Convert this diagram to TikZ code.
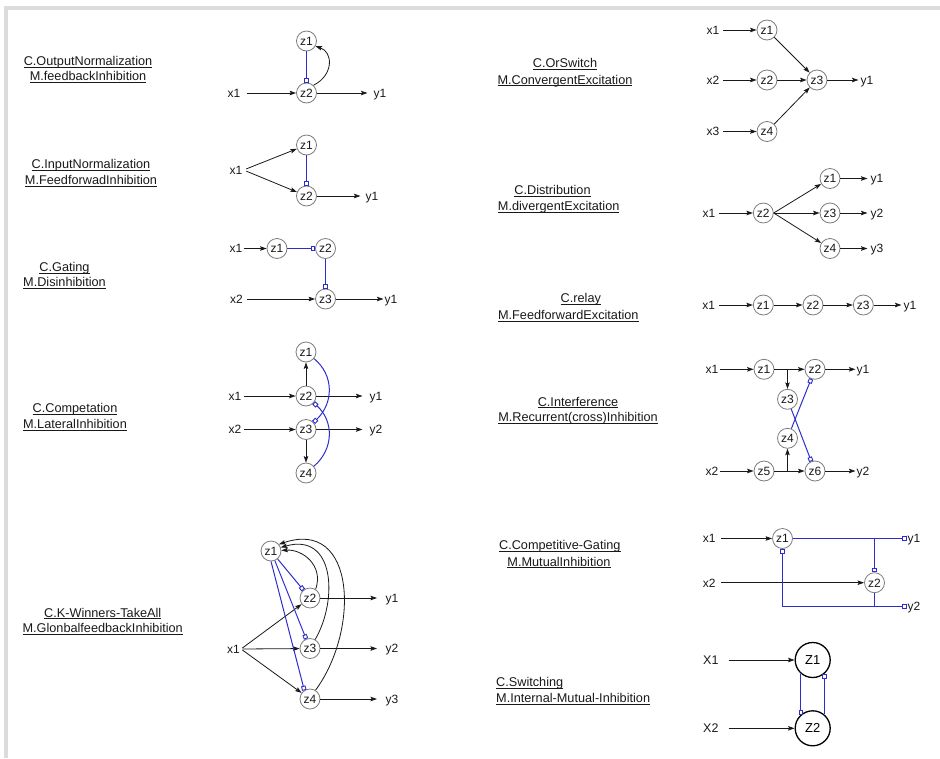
\documentclass[tikz,border=0pt]{standalone}
\usepackage{fontspec}
\setmainfont{Liberation Sans}
\usetikzlibrary{arrows.meta}
\definecolor{inhblue}{RGB}{45,45,205}
\definecolor{framegray}{RGB}{220,220,220}
\definecolor{ringgray}{RGB}{125,125,125}
\definecolor{inkc}{RGB}{25,25,25}
\newcommand\undl[1]{\setbox0=\hbox{#1}\rlap{\rule[-1.7pt]{\wd0}{0.75pt}}\box0}
\begin{document}
\begin{tikzpicture}[x=1pt,y=-1pt,
  neuron/.style={circle,draw=ringgray,line width=0.8pt,minimum size=20pt,inner sep=0pt,fill=white,text=inkc,font=\fontsize{12}{14}\selectfont,text height=8.6pt,text depth=0pt},
  bigneuron/.style={circle,draw=black,line width=1.3pt,minimum size=35pt,inner sep=0pt,fill=white,font=\fontsize{13}{15}\selectfont,text height=9.3pt,text depth=0pt},
  io/.style={inner sep=1pt,text=inkc,font=\fontsize{12}{14}\selectfont,text height=8.6pt,text depth=0pt},
  ttl/.style={inner sep=0pt,text=inkc,font=\fontsize{12.7}{15}\selectfont,text height=9.1pt,text depth=0pt},
  exc/.style={draw=inkc,line width=0.8pt,-{Stealth[length=6.5pt,width=4.5pt,inset=1.2pt]}},
  inh/.style={draw=inhblue,line width=1pt,-{Square[open,length=4.5pt,width=4.5pt,line width=0.9pt]}},
  inhline/.style={draw=inhblue,line width=1pt}]
\useasboundingbox (0,0) rectangle (940,758);
\fill[framegray] (4,6) rectangle (940,10);
\fill[framegray] (4,6) rectangle (8,758);

% ---------- D1 Output normalization
\node[ttl] (t1a) at (88,61) {\undl{C.OutputNormalization}};
\node[ttl] (t1b) at (88,76) {\undl{M.feedbackInhibition}};
\node[neuron] (a1) at (306.5,41) {z1};
\node[neuron] (a2) at (306.5,93) {z2};
\node[io] (ax1) at (234,93) {x1};
\node[io] (ay1) at (380,93) {y1};
\draw[exc,shorten <=5pt] (ax1) -- (a2);
\draw[exc,shorten >=5pt] (a2) -- (ay1);
\draw[inh] (a1) -- (a2);
\draw[exc] (a2.48) .. controls (334,75) and (333,52) .. (a1.-30);

% ---------- D2 Input normalization
\node[ttl] (t2a) at (91,164) {\undl{C.InputNormalization}};
\node[ttl] (t2b) at (91,180) {\undl{M.FeedforwadInhibition}};
\node[neuron] (b1) at (306.5,145) {z1};
\node[neuron] (b2) at (306.5,196) {z2};
\node[io] (bx1) at (236,170) {x1};
\node[io] (by1) at (372,196) {y1};
\draw[exc,shorten <=3pt] (bx1.east) -- (b1);
\draw[exc,shorten <=3pt] (bx1.east) -- (b2);
\draw[exc,shorten >=4pt] (b2) -- (by1);
\draw[inh] (b1) -- (b2);

% ---------- D3 Gating
\node[ttl] (t3a) at (64.5,267) {\undl{C.Gating}};
\node[ttl] (t3b) at (64.5,282) {\undl{M.Disinhibition}};
\node[neuron] (c1) at (277,248.5) {z1};
\node[neuron] (c2) at (325.5,248.5) {z2};
\node[neuron] (c3) at (325.5,299) {z3};
\node[io] (cx1) at (236,248.5) {x1};
\node[io] (cx2) at (236.5,299) {x2};
\node[io] (cy1) at (391,299) {y1};
\draw[exc] (cx1) -- (c1);
\draw[exc,shorten <=3pt] (cx2) -- (c3);
\draw[exc] (c3) -- (cy1);
\draw[inh] (c1) -- (c2);
\draw[inh] (c2) -- (c3);

% ---------- D4 Competation
\node[ttl] (t4a) at (75,408) {\undl{C.Competation}};
\node[ttl] (t4b) at (75,424) {\undl{M.LateralInhibition}};
\node[neuron] (d1) at (306,352) {z1};
\node[neuron] (d2) at (306,396) {z2};
\node[neuron] (d3) at (306,429.5) {z3};
\node[neuron] (d4) at (306,473) {z4};
\node[io] (dx1) at (235,396) {x1};
\node[io] (dx2) at (235,429.5) {x2};
\node[io] (dy1) at (376,396) {y1};
\node[io] (dy2) at (376,429.5) {y2};
\draw[exc,shorten <=1.5pt] (dx1) -- (d2);
\draw[exc,shorten <=1.5pt] (dx2) -- (d3);
\draw[exc,shorten >=6pt] (d2) -- (dy1);
\draw[exc,shorten >=6pt] (d3) -- (dy2);
\draw[exc] (d2) -- (d1);
\draw[exc] (d3) -- (d4);
\draw[inh] (d1) .. controls (334,375) and (334,403) .. (d3);
\draw[inh] (d4) .. controls (334,449) and (334,421) .. (d2);

% ---------- D5 K-winners
\node[ttl] (t5a) at (102.7,612.7) {\undl{C.K-Winners-TakeAll}};
\node[ttl] (t5b) at (102.7,628) {\undl{M.GlonbalfeedbackInhibition}};
\node[neuron] (e1) at (271,551) {z1};
\node[neuron] (e2) at (310,598) {z2};
\node[neuron] (e3) at (310,648.5) {z3};
\node[neuron] (e4) at (310,699) {z4};
\node[io] (ex1) at (233.5,649) {x1};
\node[io] (ey1) at (392,598) {y1};
\node[io] (ey2) at (392,648.5) {y2};
\node[io] (ey3) at (392,699) {y3};
\draw[exc,shorten <=1.5pt] (ex1.east) -- (e2);
\draw[exc,shorten <=1.5pt] (ex1.east) -- (e3);
\draw[exc,shorten <=1.5pt] (ex1.east) -- (e4);
\draw[exc,shorten >=7.5pt] (e2) -- (ey1);
\draw[exc,shorten >=7.5pt] (e3) -- (ey2);
\draw[exc,shorten >=7.5pt] (e4) -- (ey3);
\draw[inh] (e1) -- (e2);
\draw[inh] (e1) -- (e3);
\draw[inh] (e1.270) -- (e4.123);
\draw[exc] (e2.57) .. controls (324,565) and (302,549) .. (e1.3);
\draw[exc] (e3.60) .. controls (338,600) and (335,532) .. (e1.20);
\draw[exc] (e4.58) .. controls (360,630) and (356,518) .. (e1.40);

% ---------- D6 OrSwitch
\node[ttl] (t6a) at (565,63) {\undl{C.OrSwitch}};
\node[ttl] (t6b) at (565,79.5) {\undl{M.ConvergentExcitation}};
\node[neuron] (f1) at (767,30) {z1};
\node[neuron] (f2) at (767,80) {z2};
\node[neuron] (f4) at (767,131.5) {z4};
\node[neuron] (f3) at (817,80) {z3};
\node[io] (fx1) at (713,30) {x1};
\node[io] (fx2) at (713,80) {x2};
\node[io] (fx3) at (713,131.5) {x3};
\node[io] (fy1) at (867,80) {y1};
\draw[exc,shorten <=2.5pt] (fx1) -- (f1);
\draw[exc,shorten <=2.5pt] (fx2) -- (f2);
\draw[exc,shorten <=2.5pt] (fx3) -- (f4);
\draw[exc] (f1) -- (f3);
\draw[exc] (f2) -- (f3);
\draw[exc] (f4) -- (f3);
\draw[exc,shorten >=1pt] (f3) -- (fy1);

% ---------- D7 Distribution
\node[ttl] (t7a) at (552.5,190) {\undl{C.Distribution}};
\node[ttl] (t7b) at (558.7,206) {\undl{M.divergentExcitation}};
\node[neuron] (g2) at (763.3,213) {z2};
\node[neuron] (g1) at (830,178.5) {z1};
\node[neuron] (g3) at (830,213) {z3};
\node[neuron] (g4) at (830,248.5) {z4};
\node[io] (gx1) at (709,213) {x1};
\node[io] (gy1) at (877,178.5) {y1};
\node[io] (gy2) at (877,213) {y2};
\node[io] (gy3) at (877,248.5) {y3};
\draw[exc,shorten <=2pt] (gx1) -- (g2);
\draw[exc] (g2.east) -- (g1);
\draw[exc] (g2) -- (g3);
\draw[exc] (g2.east) -- (g4);
\draw[exc,shorten >=2pt] (g1) -- (gy1);
\draw[exc,shorten >=2pt] (g3) -- (gy2);
\draw[exc,shorten >=2pt] (g4) -- (gy3);

% ---------- D8 Relay
\node[ttl] (t8a) at (580.8,298.3) {\undl{C.relay}};
\node[ttl] (t8b) at (568.3,315) {\undl{M.FeedforwardExcitation}};
\node[neuron] (h1) at (763.3,305) {z1};
\node[neuron] (h2) at (813,305) {z2};
\node[neuron] (h3) at (863.3,305) {z3};
\node[io] (hx1) at (708.7,305) {x1};
\node[io] (hy1) at (910,305) {y1};
\draw[exc,shorten <=3pt] (hx1) -- (h1);
\draw[exc] (h1) -- (h2);
\draw[exc] (h2) -- (h3);
\draw[exc,shorten >=1pt] (h3) -- (hy1);

% ---------- D9 Interference
\node[ttl] (t9a) at (578,401.7) {\undl{C.Interference}};
\node[ttl] (t9b) at (578,417.3) {\undl{M.Recurrent(cross)Inhibition}};
\node[neuron] (i1) at (764,369.3) {z1};
\node[neuron] (i2) at (815,369.3) {z2};
\node[neuron] (i3) at (787.5,399.3) {z3};
\node[neuron] (i4) at (787.5,438.3) {z4};
\node[neuron] (i5) at (764,471) {z5};
\node[neuron] (i6) at (815,471) {z6};
\node[io] (ix1) at (712,369.3) {x1};
\node[io] (ix2) at (712,471) {x2};
\node[io] (iy1) at (863,369.3) {y1};
\node[io] (iy2) at (863,471) {y2};
\coordinate (ib1) at (787.5,369.3);
\coordinate (ib2) at (787.5,471);
\draw[exc] (ix1) -- (i1);
\draw[exc] (i1) -- (i2);
\draw[exc] (i2) -- (iy1);
\draw[exc] (ix2) -- (i5);
\draw[exc] (i5) -- (i6);
\draw[exc] (i6) -- (iy2);
\draw[exc] (ib1) -- (i3);
\draw[exc] (ib2) -- (i4);
\draw[inh] (i4) -- (i2);
\draw[inh] (i3) -- (i6);

% ---------- D10 Competitive gating
\node[ttl] (t10a) at (559.8,545) {\undl{C.Competitive-Gating}};
\node[ttl] (t10b) at (559,561.7) {\undl{M.MutualInhibition}};
\node[neuron] (j1) at (782.5,538.5) {z1};
\node[neuron] (j2) at (874.5,582.7) {z2};
\node[io] (jx1) at (709.3,538.5) {x1};
\node[io] (jx2) at (709.3,582.7) {x2};
\node[io] (jy1) at (914,538.5) {y1};
\node[io] (jy2) at (914,606.5) {y2};
\coordinate (jc1) at (874.5,538.5);
\coordinate (jc2) at (782.5,606.5);
\coordinate (jc3) at (874.5,606.5);
\draw[exc,shorten <=4.5pt] (jx1) -- (j1);
\draw[exc,shorten <=4.5pt] (jx2) -- (j2);
\draw[inh] (j1) -- (jy1);
\draw[inh] (jc1) -- (j2);
\draw[inhline] (j2) -- (jc3);
\draw[inh] (jc2) -- (jy2);
\draw[inh] (jc2) -- (j1);

% ---------- D11 Switching
\node[ttl,anchor=west] (t11a) at (496,682.3) {\undl{C.Switching}};
\node[ttl,anchor=west] (t11b) at (496,698.3) {\undl{M.Internal-Mutual-Inhibition}};
\node[bigneuron] (k1) at (812.7,660) {Z1};
\node[bigneuron] (k2) at (812.7,728.3) {Z2};
\node[io,font=\fontsize{12.5}{14}\selectfont] (kx1) at (710.8,660) {X1};
\node[io,font=\fontsize{12.5}{14}\selectfont] (kx2) at (710.8,728.3) {X2};
\draw[exc,shorten <=9pt] (kx1) -- (k1);
\draw[exc,shorten <=9pt] (kx2) -- (k2);
\draw[inh] (k1.229) -- (k2.131);
\draw[inh] (k2.50) -- (k1.310);
\end{tikzpicture}
\end{document}
